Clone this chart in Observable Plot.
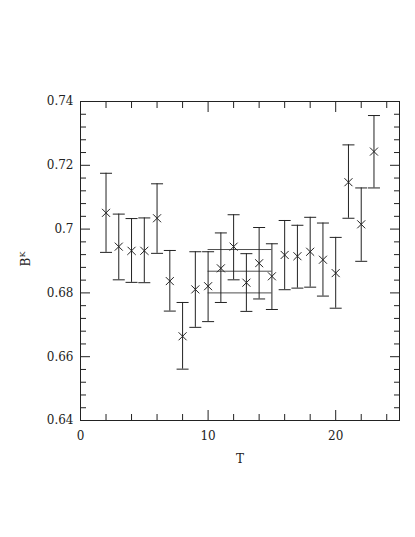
<!DOCTYPE html>
<html>
<head>
<meta charset="utf-8">
<script src="https://cdn.jsdelivr.net/npm/d3@7"></script>
<script src="https://cdn.jsdelivr.net/npm/@observablehq/plot@0.6"></script>
<style>
  html, body { margin: 0; padding: 0; background: #fff; }
  #chart svg { display: block; }
</style>
</head>
<body>
<div id="chart"></div>
<script>
// Data
const T      = [2,3,4,5,6,7,8,9,10,11,12,13,14,15,16,17,18,19,20,21,22,23];
const BK     = [0.7051,0.6945,0.6932,0.6932,0.7034,0.6837,0.6664,0.6811,0.6821,0.6877,0.6945,0.6832,0.6893,0.6852,0.6919,0.6915,0.6929,0.6904,0.6862,0.7147,0.7015,0.7243];
const BKhigh = [0.7175,0.7047,0.7033,0.7035,0.7142,0.6933,0.6770,0.6929,0.6929,0.6988,0.7045,0.6923,0.7005,0.6954,0.7027,0.7012,0.7037,0.7019,0.6974,0.7264,0.7129,0.7356];
const BKlow  = [0.6927,0.6841,0.6833,0.6832,0.6924,0.6743,0.6561,0.6692,0.6710,0.6770,0.6841,0.6742,0.6781,0.6748,0.6810,0.6815,0.6818,0.6790,0.6752,0.7034,0.6899,0.7129];

// Fit over plateau
const fitRange = [10, 15];
const fitValue = 0.6868;
const fitError = 0.0068;

// Axes
const xDomain = [0, 25];
const yDomain = [0.64, 0.74];
const xMajorTicks = [0, 10, 20];
const xMinorTicks = [2,4,6,8,12,14,16,18,22,24];
const yMajorTicks = [0.64, 0.66, 0.68, 0.7, 0.72, 0.74];
const yMinorTicks = [0.644,0.648,0.652,0.656,0.664,0.668,0.672,0.676,0.684,0.688,0.692,0.696,0.704,0.708,0.712,0.716,0.724,0.728,0.732,0.736];
const xLabel = "T";

const points = T.map((t, i) => ({T: t, BK: BK[i], lo: BKlow[i], hi: BKhigh[i]}));
const fitLines = [
  {y: fitValue, dash: null},
  {y: fitValue + fitError, dash: "2,1.5"},
  {y: fitValue - fitError, dash: "2,1.5"}
];

const capSymbol = { draw(ctx, size) { ctx.moveTo(-6, 0); ctx.lineTo(6, 0); } };
const crossSymbol = { draw(ctx, size) { const r = 4; ctx.moveTo(-r, -r); ctx.lineTo(r, r); ctx.moveTo(-r, r); ctx.lineTo(r, -r); } };

const ink = "#222";
const font = "DejaVu Serif";

const chart = Plot.plot({
  width: 415,
  height: 537,
  marginLeft: 80,
  marginRight: 16,
  marginTop: 101,
  marginBottom: 117,
  style: { fontFamily: font, fontSize: "11px", color: ink, background: "#fff" },
  x: { domain: xDomain },
  y: { domain: yDomain },
  marks: [
    Plot.frame({ stroke: ink, strokeWidth: 1 }),
    // ticks inward on all four sides
    Plot.axisX({ anchor: "bottom", ticks: xMajorTicks, tickSize: -10, text: null, label: null, stroke: ink }),
    Plot.axisX({ anchor: "bottom", ticks: xMinorTicks, tickSize: -6, text: null, label: null, stroke: ink }),
    Plot.axisX({ anchor: "top", ticks: xMajorTicks, tickSize: -10, text: null, label: null, stroke: ink }),
    Plot.axisX({ anchor: "top", ticks: xMinorTicks, tickSize: -6, text: null, label: null, stroke: ink }),
    Plot.axisY({ anchor: "left", ticks: yMajorTicks, tickSize: -10, text: null, label: null, stroke: ink }),
    Plot.axisY({ anchor: "left", ticks: yMinorTicks, tickSize: -6, text: null, label: null, stroke: ink }),
    Plot.axisY({ anchor: "right", ticks: yMajorTicks, tickSize: -10, text: null, label: null, stroke: ink }),
    Plot.axisY({ anchor: "right", ticks: yMinorTicks, tickSize: -6, text: null, label: null, stroke: ink }),
    // tick labels
    Plot.axisX({ anchor: "bottom", ticks: xMajorTicks, tickSize: 0, tickPadding: 11, tickFormat: d => String(d), fontSize: 12, fill: ink, label: null }),
    Plot.axisY({ anchor: "left", ticks: yMajorTicks, tickSize: 0, tickPadding: 7, tickFormat: d => String(+d.toFixed(2)), fontSize: 12, fill: ink, label: null }),
    // fit lines
    Plot.ruleY(fitLines, { y: "y", x1: fitRange[0], x2: fitRange[1], stroke: ink, strokeWidth: 0.8, strokeDasharray: d => d.dash }),
    // error bars
    Plot.ruleX(points, { x: "T", y1: "lo", y2: "hi", stroke: ink, strokeWidth: 1 }),
    Plot.dot(points, { x: "T", y: "lo", symbol: capSymbol, stroke: ink, strokeWidth: 1 }),
    Plot.dot(points, { x: "T", y: "hi", symbol: capSymbol, stroke: ink, strokeWidth: 1 }),
    Plot.dot(points, { x: "T", y: "BK", symbol: crossSymbol, stroke: ink, strokeWidth: 1 }),
    // x label
    Plot.text([xLabel], { x: [12.5], y: [0.64], text: d => d, dy: 39, fontSize: 12, fill: ink })
  ]
});

document.getElementById("chart").appendChild(chart);

// y label B^K (rotated)
const svg = d3.select(chart);
const yl = svg.append("text")
  .attr("transform", "translate(30,259) rotate(-90)")
  .attr("text-anchor", "middle")
  .attr("font-family", font)
  .attr("font-size", 12)
  .attr("fill", ink);
yl.append("tspan").text("B");
yl.append("tspan").attr("font-size", 8).attr("dy", -5).text("K");
</script>
</body>
</html>
